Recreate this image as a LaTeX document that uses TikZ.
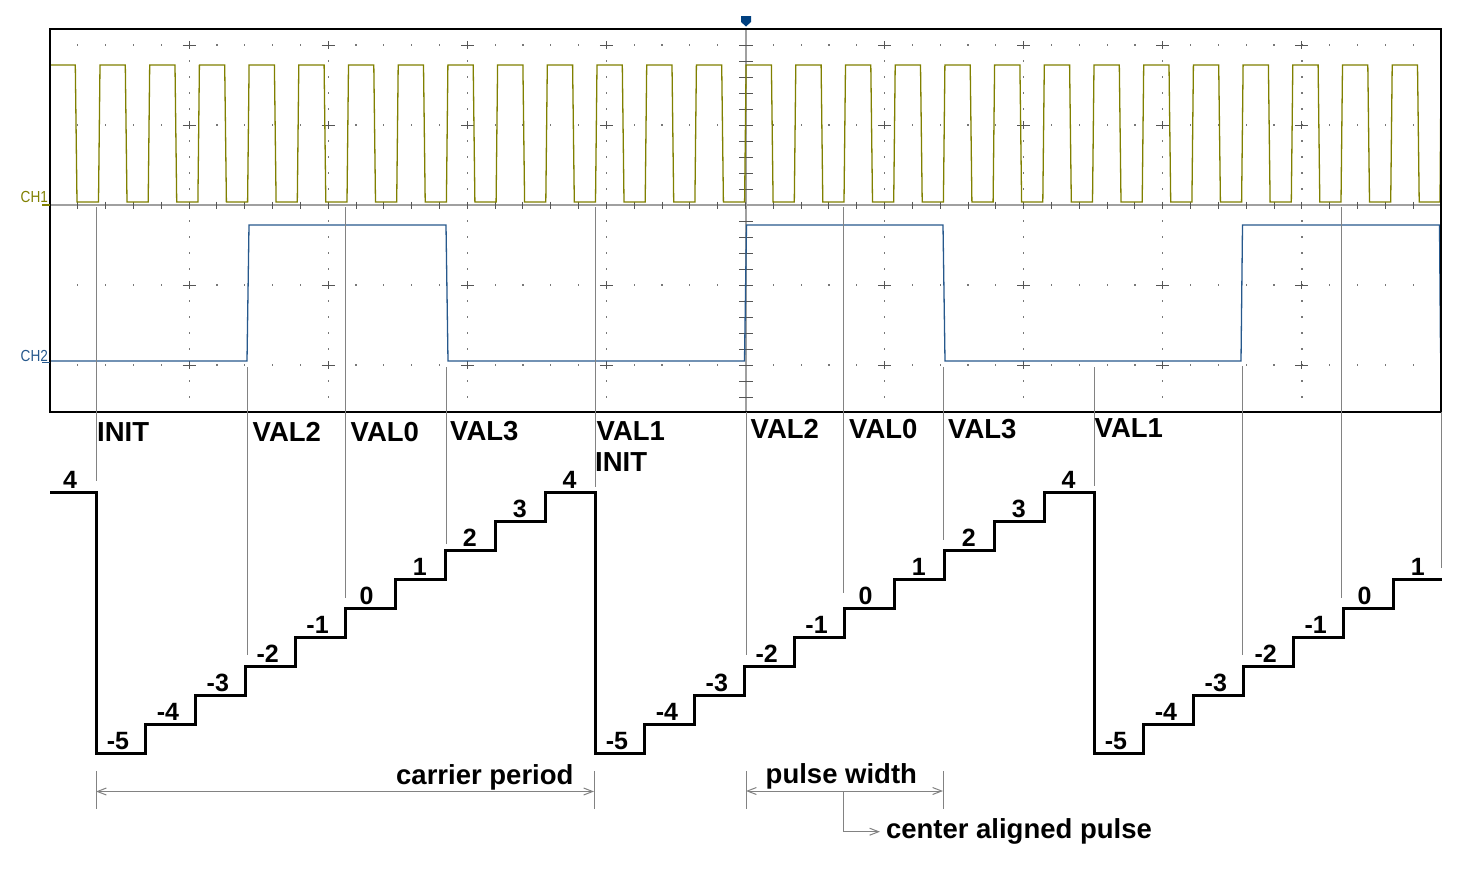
\documentclass[tikz,border=0pt]{standalone}
\usepackage{fontspec}
\setmainfont{Liberation Sans}
\usetikzlibrary{arrows.meta}
\definecolor{olivewave}{RGB}{128,128,0}
\definecolor{bluewave}{RGB}{38,88,140}
\definecolor{gridgray}{RGB}{85,85,85}
\definecolor{dotgray}{RGB}{120,120,120}
\definecolor{axisgray}{RGB}{160,160,160}
\definecolor{markerblue}{RGB}{0,64,128}
\definecolor{guidegray}{RGB}{130,130,130}
\tikzset{
  guide/.style={guidegray, line width=1pt},
  stair/.style={black, line width=3pt, line join=miter},
  lbl/.style={font=\fontsize{27.5}{30}\selectfont\bfseries, anchor=base west, inner sep=0pt},
  num/.style={font=\fontsize{25}{27}\selectfont\bfseries, anchor=base, inner sep=0pt},
  dimline/.style={guidegray, line width=1pt},
  barb/.tip={Straight Barb[length=9pt,width=7pt]},
  chlabel/.style={font=\fontsize{16}{16}\selectfont, anchor=base west, inner sep=0pt},
  ch1wave/.style={olivewave, line width=1.3pt, line join=miter},
  ch2wave/.style={bluewave, line width=1.3pt, line join=miter},
}
\begin{document}
\begin{tikzpicture}[x=1pt,y=-1pt]
\useasboundingbox (0,0) rectangle (1480,870);

% ---------- scope grid ----------
% minor dots along rows
\foreach \yy in {45,125,285,365}{
  \foreach \j in {1,...,49}{
    \pgfmathtruncatemacro{\m}{mod(\j,5)}
    \ifnum\m=0\else
      \fill[dotgray] ({50+27.82*\j-0.6},{\yy-0.6}) rectangle ++(1.2,1.2);
    \fi
  }
}
% minor dots along columns
\foreach \c in {1,2,3,4,6,7,8,9}{
  \foreach \i in {1,...,23}{
    \ifnum\i=11\else
      \fill[dotgray] ({50+139.1*\c-0.6},{29+16*\i-0.6}) rectangle ++(1.2,1.2);
    \fi
  }
}
% major crosses
\foreach \c in {1,2,3,4,6,7,8,9}{
  \foreach \yy in {45,125,285,365}{
    \draw[gridgray, line width=1pt] ({50+139.1*\c-6.5},\yy) -- ({50+139.1*\c+6.5},\yy)
      ({50+139.1*\c},\yy-4) -- ({50+139.1*\c},\yy+4);
  }
}
% center axes
\draw[axisgray, line width=2.6pt] (50,205) -- (1441,205);
\draw[axisgray, line width=2.6pt] (746,29) -- (746,412);
\foreach \j in {1,...,49}{
  \draw[gridgray, line width=1pt] ({50+27.82*\j},201.5) -- ({50+27.82*\j},208.5);
}
\foreach \i in {1,...,23}{
  \ifnum\i=11\else
    \draw[gridgray, line width=1pt] (739,{29+16*\i}) -- (753,{29+16*\i});
  \fi
}

% ---------- waveforms ----------
\draw[ch1wave] (50,65) -- (75.3,65) -- (77,202)
  foreach \k in {0,...,26} { -- ({100+49.7*\k-1.5},202) -- ({100+49.7*\k},65)
                             -- ({125.3+49.7*\k},65) -- ({127+49.7*\k},202) }
  -- (1440,202) -- (1441,70);
\draw[ch2wave] (50,361) -- (247,361) -- (249,225) -- (446,225) -- (448,361)
  -- (744.5,361) -- (746.5,225) -- (943,225) -- (945,361) -- (1241,361)
  -- (1242.5,225) -- (1439.5,225) -- (1440.5,353);

% scope frame
\draw[black, line width=1.3pt] (50,29) rectangle (1441,412);
% trigger marker
\fill[markerblue] (741,16) -- (751,16) -- (751,22) -- (746,26.5) -- (741,22) -- cycle;

% channel labels
\node[chlabel, text=olivewave] (ch1) at (20.5,202) {\scalebox{0.85}[1]{CH1}};
\node[chlabel, text=bluewave] (ch2) at (20.5,361) {\scalebox{0.85}[1]{CH2}};
\draw[olivewave, line width=1.3pt] (42,205) -- (50,205);
\draw[bluewave, line width=1.3pt] (42,362.5) -- (50,362.5);

% ---------- guide lines ----------
\foreach \gx/\ga/\gb in {96/207/481, 247/367/655, 345/207/598, 446/367/544,
  595/207/487, 746/412/655, 843/207/593, 943/367/540, 1094/367/486,
  1242/366/655, 1341/207/598, 1441/412/568}{
  \draw[guide] (\gx,\ga) -- (\gx,\gb);
}

% ---------- event labels ----------
\node[lbl] (l1)  at (97,441)    {INIT};
\node[lbl] (l2)  at (252.5,441) {VAL2};
\node[lbl] (l3)  at (350.5,441) {VAL0};
\node[lbl] (l4)  at (450,440)   {VAL3};
\node[lbl] (l5)  at (596.5,440) {VAL1};
\node[lbl] (l6)  at (595,471.5) {INIT};
\node[lbl] (l7)  at (750.5,438.5) {VAL2};
\node[lbl] (l8)  at (849,438.5) {VAL0};
\node[lbl] (l9)  at (948,438)   {VAL3};
\node[lbl] (l10) at (1094.5,437.5) {VAL1};

% ---------- counter staircase ----------
\draw[stair] (50,492)
  foreach \p in {0,1} {
    -- ({96+499*\p},492) -- ({96+499*\p},753)
    foreach \k in {1,...,9} { -- ({96+499*\p+49.9*\k},{753-29*(\k-1)}) -- ({96+499*\p+49.9*\k},{753-29*\k}) }
  }
  -- (1094,492) -- (1094,753)
  foreach \k in {1,...,6} { -- ({1094+49.9*\k},{753-29*(\k-1)}) -- ({1094+49.9*\k},{753-29*\k}) }
  -- (1442,579);

\node[num] (n4first) at (70,488.5) {4};
\foreach \p/\kmax in {0/9,1/9,2/6}{
  \foreach \k in {0,...,\kmax}{
    \pgfmathtruncatemacro{\v}{\k-5}
    \pgfmathsetmacro{\off}{ifthenelse(\v<0,22,ifthenelse(\v==0,21,24.5))}
    \node[num] (n\p-\k) at ({96+499*\p+49.9*\k+\off},{753-29*\k-3.5}) {\v};
  }
}

% ---------- dimensions ----------
\coordinate (cpL) at (96,791.5);
\coordinate (cpR) at (594,791.5);
\coordinate (pwL) at (746,791);
\coordinate (pwR) at (943,791);
\coordinate (pwC) at (843,791);
\coordinate (caE) at (880,831.7);
\foreach \tx in {96,594,746,943}{
  \draw[guide] (\tx,771) -- (\tx,809);
}
\draw[dimline, barb-barb] (cpL) -- (cpR);
\draw[dimline, barb-barb] (pwL) -- (pwR);
\draw[dimline, -barb] (pwC) |- (caE);

\node[lbl] (cp) at (396,784.3) {carrier period};
\node[lbl] (pw) at (765.5,783) {pulse width};
\node[lbl] (ca) at (885.8,838.3) {center aligned pulse};
\end{tikzpicture}
\end{document}
